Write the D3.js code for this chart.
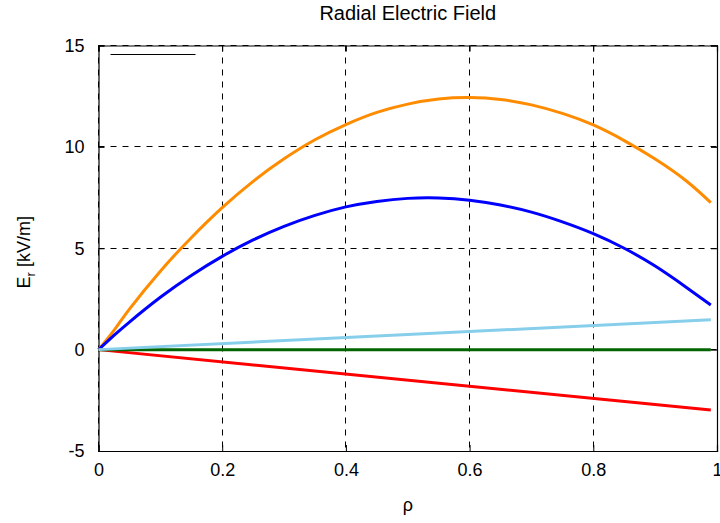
<!DOCTYPE html>
<html>
<head>
<meta charset="utf-8">
<script src="https://cdn.jsdelivr.net/npm/d3@7"></script>
<style>
  body { margin: 0; background: #fff; }
  text { font-family: "Liberation Sans", Arial, sans-serif; fill: #000; }
</style>
</head>
<body>
<div id="SVG"></div>
<script>
// Define SVG area dimensions
var svgWidth = 720;
var svgHeight = 523;

// plot box margins
var chartMargin = { top: 45.5, right: 3, bottom: 72, left: 98.5 };

var chartWidth = svgWidth - chartMargin.left - chartMargin.right;
var chartHeight = svgHeight - chartMargin.top - chartMargin.bottom;

// data
var rho = [0, 0.025, 0.05, 0.1, 0.15, 0.2, 0.25, 0.3, 0.35, 0.4, 0.45, 0.5,
  0.55, 0.6, 0.65, 0.7, 0.75, 0.8, 0.85, 0.9, 0.95, 0.99];
var erOrange = [0, 0.95, 2.0, 3.87, 5.52, 7.0, 8.3, 9.41, 10.35, 11.1, 11.7, 12.11,
  12.36, 12.43, 12.34, 12.07, 11.65, 11.08, 10.31, 9.4, 8.33, 7.25];
var erBlue = [0, 0.7, 1.36, 2.58, 3.66, 4.6, 5.41, 6.08, 6.62, 7.04, 7.31, 7.46,
  7.48, 7.37, 7.13, 6.78, 6.3, 5.72, 5.0, 4.12, 3.08, 2.2];
var rhoLin = [0, 0.99];
var erLightBlue = [0, 1.47];
var erGreen = [0, 0];
var erRed = [0, -2.98];

var xTicks = [0, 0.2, 0.4, 0.6, 0.8, 1];
var yTicks = [-5, 0, 5, 10, 15];
var legendLabels = [""];

var series = [
  { x: rho, y: erOrange, color: "#ff8c00" },
  { x: rho, y: erBlue, color: "#0000ff" },
  { x: rhoLin, y: erRed, color: "#ff0000" },
  { x: rhoLin, y: erGreen, color: "#006400" },
  { x: rhoLin, y: erLightBlue, color: "#87ceeb" }
];

var svg = d3.select("#SVG")
  .append("svg")
  .attr("height", svgHeight)
  .attr("width", svgWidth);

var chartGroup = svg.append("g")
  .attr("transform", "translate(" + chartMargin.left + ", " + chartMargin.top + ")");

var xScale = d3.scaleLinear().domain([0, 1]).range([0, chartWidth]);
var yScale = d3.scaleLinear().domain([-5, 15]).range([chartHeight, 0]);

// grid
chartGroup.append("g")
  .selectAll("line")
  .data(xTicks)
  .enter()
  .append("line")
  .attr("x1", function (d) { return Math.round(xScale(d)); })
  .attr("x2", function (d) { return Math.round(xScale(d)); })
  .attr("y1", 0)
  .attr("y2", chartHeight)
  .attr("stroke", "#000")
  .attr("stroke-dasharray", "6,6");

chartGroup.append("g")
  .selectAll("line")
  .data(yTicks)
  .enter()
  .append("line")
  .attr("y1", function (d) { return Math.round(yScale(d)); })
  .attr("y2", function (d) { return Math.round(yScale(d)); })
  .attr("x1", 0)
  .attr("x2", chartWidth)
  .attr("stroke", "#000")
  .attr("stroke-dasharray", "6,6");

// axes, ticks pointing inward, mirrored
var fmt = function (d) { return String(d); };
var bottomAxis = d3.axisBottom(xScale).tickValues(xTicks).tickSize(-6).tickPadding(12)
  .tickFormat(fmt);
var topAxis = d3.axisTop(xScale).tickValues(xTicks).tickSize(-6).tickFormat("");
var leftAxis = d3.axisLeft(yScale).tickValues(yTicks).tickSize(-6).tickPadding(14)
  .tickFormat(fmt);
var rightAxis = d3.axisRight(yScale).tickValues(yTicks).tickSize(-6).tickFormat("");

chartGroup.append("g").attr("transform", "translate(0, " + chartHeight + ")").call(bottomAxis);
chartGroup.append("g").call(topAxis);
chartGroup.append("g").call(leftAxis);
chartGroup.append("g").attr("transform", "translate(" + chartWidth + ", 0)").call(rightAxis);

chartGroup.selectAll(".domain").attr("stroke", "#000").attr("stroke-width", 1.2);
chartGroup.selectAll(".tick line").attr("stroke", "#000");
chartGroup.selectAll(".tick text").style("font-size", "18px")
  .style("font-family", "'Liberation Sans', Arial, sans-serif");

// curves
var line = d3.line()
  .x(function (d) { return xScale(d[0]); })
  .y(function (d) { return yScale(d[1]); })
  .curve(d3.curveNatural);

series.forEach(function (s) {
  chartGroup.append("path")
    .datum(d3.zip(s.x, s.y))
    .attr("fill", "none")
    .attr("stroke", s.color)
    .attr("stroke-width", 3)
    .attr("d", line);
});

// key (empty label, black sample line)
legendLabels.forEach(function (t, i) {
  chartGroup.append("line")
    .attr("x1", 12).attr("x2", 97)
    .attr("y1", 9 + i * 18).attr("y2", 9 + i * 18)
    .attr("stroke", "#000").attr("stroke-width", 1.2);
  chartGroup.append("text").attr("x", 104).attr("y", 14 + i * 18)
    .style("font-size", "18px").text(t);
});

// titles
svg.append("text")
  .attr("x", chartMargin.left + chartWidth / 2)
  .attr("y", 20)
  .attr("text-anchor", "middle")
  .style("font-size", "20px")
  .text("Radial Electric Field");

svg.append("text")
  .attr("x", chartMargin.left + chartWidth / 2)
  .attr("y", 511)
  .attr("text-anchor", "middle")
  .style("font-size", "18px")
  .text("ρ");

var yLab = svg.append("text")
  .attr("transform", "translate(30, " + (chartMargin.top + chartHeight / 2 + 4) + ") rotate(-90)")
  .attr("text-anchor", "middle")
  .style("font-size", "18px");
yLab.append("tspan").text("E");
yLab.append("tspan").attr("dy", 5).style("font-size", "13px").text("r");
yLab.append("tspan").attr("dy", -5).text(" [kV/m]");
</script>
</body>
</html>
